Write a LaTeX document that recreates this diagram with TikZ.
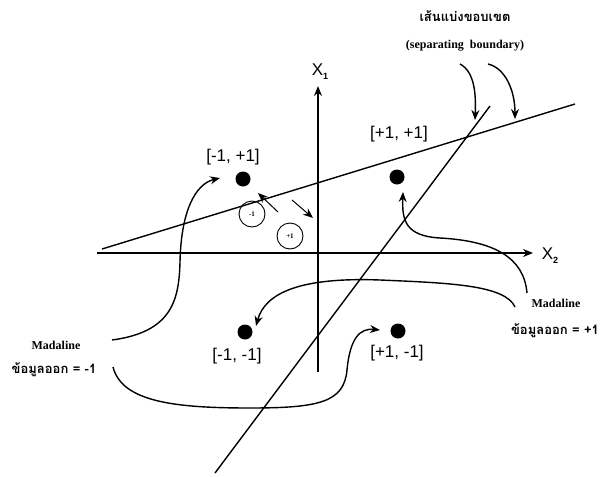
\documentclass[tikz,border=0pt]{standalone}
\usepackage{fontspec}
\setmainfont{Liberation Serif}
\newfontfamily\labelfont{Liberation Sans}
\newfontfamily\thaifont[Script=Thai]{Loma}
\usetikzlibrary{arrows.meta}

\begin{document}
\begin{tikzpicture}[x=1pt, y=-1pt, >={Stealth[length=10pt,width=8pt]}, line width=1.4pt,
  dot/.style={circle, fill, inner sep=0pt, minimum size=15pt},
  pointlabel/.style={font=\labelfont\fontsize{17}{19}\selectfont},
  outcircle/.style={draw, circle, line width=0.9pt, minimum size=26pt, inner sep=0pt, font=\bfseries\scriptsize},
  notelabel/.style={font=\bfseries\fontsize{12}{14}\selectfont},
  thailabel/.style={font=\thaifont\bfseries\fontsize{13}{15}\selectfont}]
\useasboundingbox (0,0) rectangle (603,477);
% axes
\coordinate (x2s) at (97,253);
\coordinate (x2e) at (533,253);
\coordinate (x1s) at (318,372);
\coordinate (x1e) at (318,86);
\draw[->] (x2s) -- (x2e);
\draw[->] (x1s) -- (x1e);
\node[font=\labelfont\fontsize{17}{19}\selectfont] (x2) at (550,256) {X\raisebox{-.45ex}{\fontsize{9}{9}\selectfont\bfseries 2}};
\node[font=\labelfont\fontsize{17}{19}\selectfont] (x1) at (320,72) {X\raisebox{-.45ex}{\fontsize{9}{9}\selectfont\bfseries 1}};
% separating boundary
\coordinate (b1s) at (102,249);
\coordinate (b1e) at (575,104);
\coordinate (b2s) at (215,473);
\coordinate (b2e) at (490,106);
\draw (b1s) -- (b1e);
\draw (b2s) -- (b2e);
% input points
\node[dot] (pmp) at (243,179) {};
\node[dot] (ppp) at (397,177) {};
\node[dot] (pmm) at (245,332) {};
\node[dot] (ppm) at (398,331) {};
\node[pointlabel] (lmp) at (233,157) {[-1, +1]};
\node[pointlabel] (lpp) at (399,134) {[+1, +1]};
\node[pointlabel] (lmm) at (237,356) {[-1, -1]};
\node[pointlabel] (lpm) at (397,353) {[+1, -1]};
% outputs either side
\node[outcircle] (om) at (252,214) {-1};
\node[outcircle] (op) at (290,236) {+1};
\coordinate (am1) at (278,212);
\coordinate (am2) at (258,193);
\coordinate (ap1) at (292,200);
\coordinate (ap2) at (313,218);
\draw[->, line width=1pt] (am1) -- (am2);
\draw[->, line width=1pt] (ap1) -- (ap2);
% titles
\node[thailabel] (tth) at (465,16) {เส้นแบ่งขอบเขต};
\node[notelabel] (ten) at (465,46) {(separating\ \ boundary)};
\coordinate (c1a) at (460,64);
\coordinate (c1b) at (475,120);
\coordinate (c2a) at (488,64);
\coordinate (c2b) at (515,119);
\draw[->] (c1a) .. controls (475,72) and (476,95) .. (c1b);
\draw[->] (c2a) .. controls (505,68) and (515,90) .. (c2b);
% Madaline, output -1
\node[notelabel] (mdl) at (56,345) {Madaline};
\node[thailabel] (oml) at (54,370) {ข้อมูลออก = -1};
\coordinate (lu1) at (112,340);
\coordinate (lu2) at (220,178);
\draw[->] (lu1) .. controls (172,332) and (179,300) .. (180,262)
  .. controls (181,212) and (195,184) .. (lu2);
\coordinate (ll1) at (113,367);
\coordinate (ll2) at (380,330);
\draw[->] (ll1) .. controls (122,402) and (175,408) .. (250,408)
  .. controls (320,408) and (344,402) .. (347,370)
  .. controls (350,338) and (360,328) .. (ll2);
% Madaline, output +1
\node[notelabel] (mdr) at (556,303) {Madaline};
\node[thailabel] (opl) at (555,331) {ข้อมูลออก = +1};
\coordinate (ru1) at (527,293);
\coordinate (ru2) at (403,192);
\draw[->] (ru1) .. controls (524,258) and (495,241) .. (440,238)
  .. controls (405,236) and (402,220) .. (ru2);
\coordinate (rl1) at (515,307);
\coordinate (rl2) at (256,326);
\draw[->] (rl1) .. controls (505,285) and (450,283) .. (380,280)
  .. controls (300,277) and (265,293) .. (rl2);
\end{tikzpicture}
\end{document}
